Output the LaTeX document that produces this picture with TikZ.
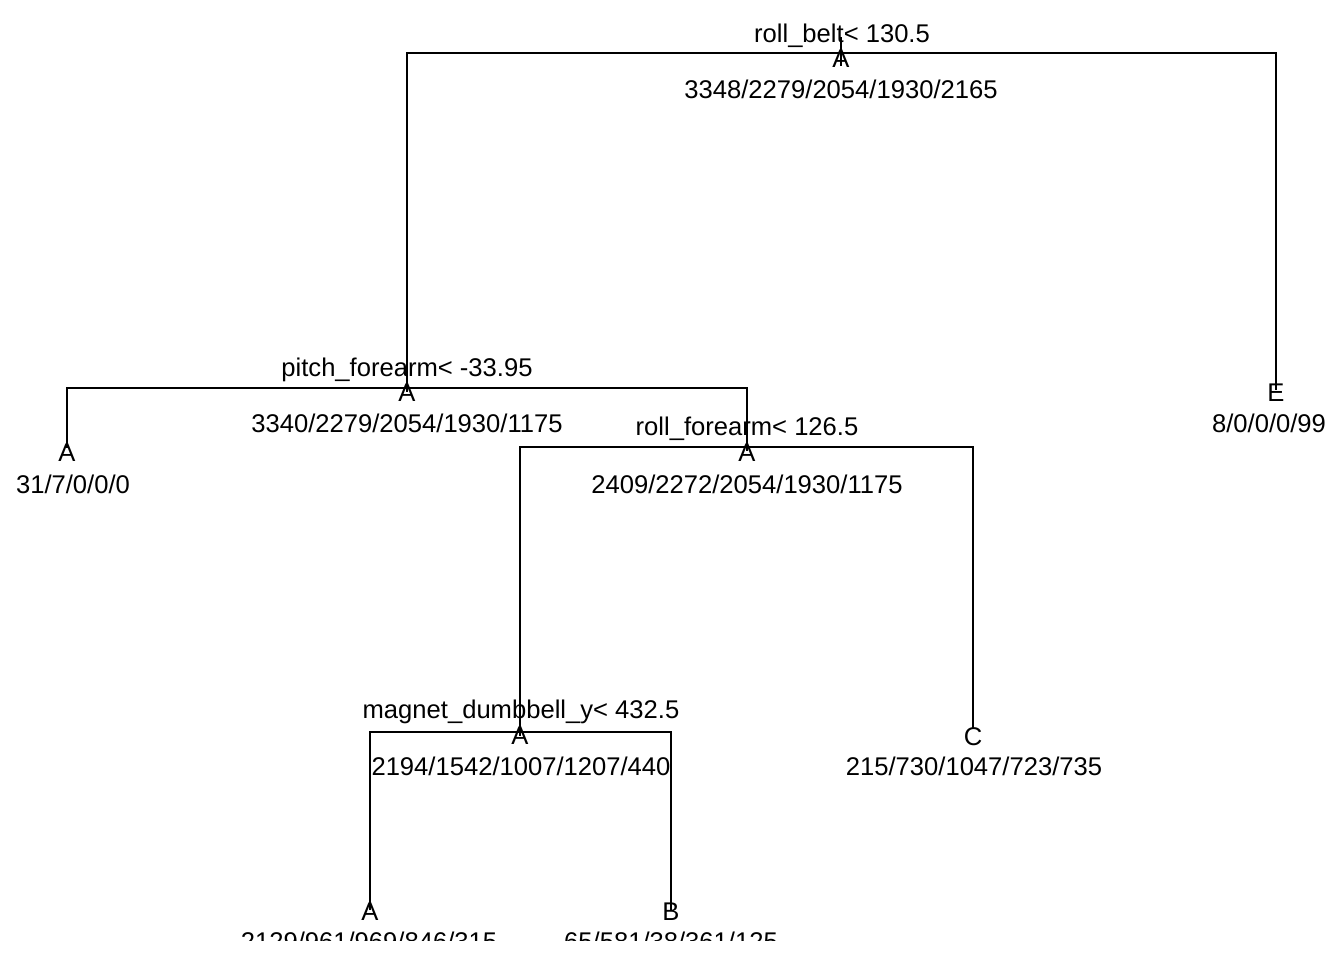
\documentclass[tikz,border=0pt]{standalone}
\usepackage{fontspec}
\setmainfont{Liberation Sans}
\usetikzlibrary{calc}
\tikzset{
  lbl/.style={font=\fontsize{19.2}{23}\selectfont, inner sep=0pt, anchor=base, text=black},
  branch/.style={draw=black, line width=1.4pt, line cap=butt}
}
\begin{document}
\begin{tikzpicture}[x=0.75pt,y=-0.75pt]
\useasboundingbox[fill=white] (0,0) rectangle (1344,960);
\begin{scope}
\clip (0,0) rectangle (1344,940);
% node points
\coordinate (n1) at (841,53);
\coordinate (n2) at (407,388);
\coordinate (n3) at (1276,390);
\coordinate (n4) at (67,448);
\coordinate (n5) at (747,447);
\coordinate (n10) at (520,732);
\coordinate (n11) at (973,729);
\coordinate (n20) at (370,910);
\coordinate (n21) at (671,910);
% branches
\draw[branch] ($(n1)+(0,-16)$) -- ($(n1)+(0,13)$);
\draw[branch] (n2) |- (n1) -| (n3);
\draw[branch] (n2) -- ($(n2)+(0,4)$);
\draw[branch] (n4) |- (n2) -| (n5);
\draw[branch] (n5) -- ($(n5)+(0,4)$);
\draw[branch] (n10) |- (n5) -| (n11);
\draw[branch] (n10) -- ($(n10)+(0,4)$);
\draw[branch] (n20) |- (n10) -| (n21);
% labels
\node[lbl] (s1) at (842,42) {roll\_belt< 130.5};
\node[lbl] (c1) at (841,67) {A};
\node[lbl] (k1) at (841,98) {3348/2279/2054/1930/2165};
\node[lbl] (s2) at (407,376) {pitch\_forearm< -33.95};
\node[lbl] (c2) at (407,401) {A};
\node[lbl] (k2) at (407,432) {3340/2279/2054/1930/1175};
\node[lbl] (c3) at (1276,401) {E};
\node[lbl] (k3) at (1269,432) {8/0/0/0/99};
\node[lbl] (c4) at (67,461) {A};
\node[lbl] (k4) at (73,493) {31/7/0/0/0};
\node[lbl] (s5) at (747,435) {roll\_forearm< 126.5};
\node[lbl] (c5) at (747,461) {A};
\node[lbl] (k5) at (747,493) {2409/2272/2054/1930/1175};
\node[lbl] (s10) at (521,718) {magnet\_dumbbell\_y< 432.5};
\node[lbl] (c10) at (520,744) {A};
\node[lbl] (k10) at (521,775) {2194/1542/1007/1207/440};
\node[lbl] (c11) at (973,745) {C};
\node[lbl] (k11) at (974,775) {215/730/1047/723/735};
\node[lbl] (c20) at (370,920) {A};
\node[lbl] (k20) at (369,950) {2129/961/969/846/315};
\node[lbl] (c21) at (671,920) {B};
\node[lbl] (k21) at (671,950) {65/581/38/361/125};
\end{scope}
\end{tikzpicture}
\end{document}
